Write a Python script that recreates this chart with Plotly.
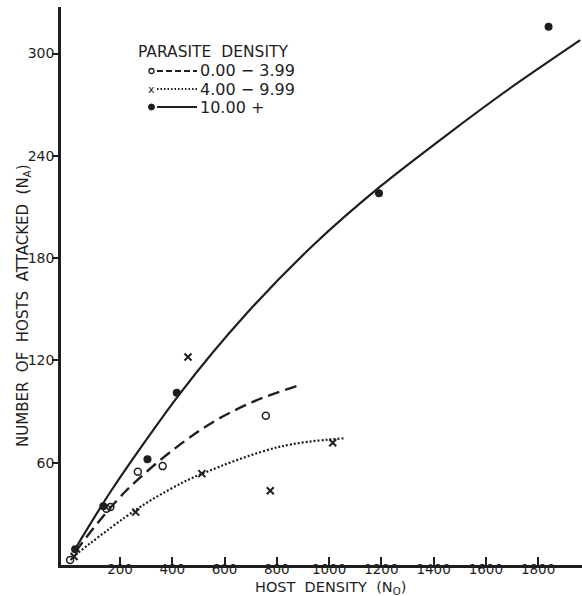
import plotly.graph_objects as go

# ---- data ----
x_ticks = [200, 400, 600, 800, 1000, 1200, 1400, 1600, 1800]
y_ticks = [60, 120, 180, 240, 300]

# observed points
low_x = [9, 148, 163, 268, 363, 758]          # parasite density 0.00-3.99 (open circles)
low_y = [3, 33, 34, 54.7, 58, 87.6]
mid_x = [24, 260, 460, 513, 775, 1014]        # 4.00-9.99 (x)
mid_y = [5, 31, 122, 53.6, 43.6, 71.7]
high_x = [28, 136, 305, 417, 1191, 1840]      # 10.00+ (filled circles)
high_y = [9.2, 34.5, 62, 101, 218, 315.7]

# fitted curves
low_fit_x = [28, 226, 506, 698, 889]
low_fit_y = [7.6, 44, 79, 95, 105.6]
mid_fit_x = [28, 257, 392, 513, 812, 1055]
mid_fit_y = [5.9, 32, 44.5, 53.5, 69.4, 74.3]
high_fit_x = [28, 168, 430, 685, 940, 1195, 1450, 1705, 1961]
high_fit_y = [9.4, 44, 100.7, 147.6, 187.7, 221.9, 252.2, 281.0, 307.9]

legend_labels = ["0.00 \u2212 3.99", "4.00 \u2212 9.99", "10.00 +"]
legend_title = "PARASITE  DENSITY"

INK = "#1e1e1e"
FONT = "DejaVu Sans"

fig = go.Figure()

fig.add_trace(go.Scatter(x=high_fit_x, y=high_fit_y, mode="lines",
                         line=dict(color=INK, width=2.2, shape="spline", smoothing=0.8),
                         showlegend=False, hoverinfo="skip"))
fig.add_trace(go.Scatter(x=low_fit_x, y=low_fit_y, mode="lines",
                         line=dict(color=INK, width=2.4, shape="spline", dash="12px,6px"),
                         showlegend=False, hoverinfo="skip"))
fig.add_trace(go.Scatter(x=mid_fit_x, y=mid_fit_y, mode="lines",
                         line=dict(color=INK, width=2.2, shape="spline", dash="2px,2px"),
                         showlegend=False, hoverinfo="skip"))

fig.add_trace(go.Scatter(x=low_x, y=low_y, mode="markers",
                         marker=dict(symbol="circle-open", size=7, color=INK, line=dict(width=1.5)),
                         showlegend=False))
fig.add_trace(go.Scatter(x=mid_x, y=mid_y, mode="markers",
                         marker=dict(symbol="x-thin-open", size=7, color=INK, line=dict(width=2, color=INK)),
                         showlegend=False))
fig.add_trace(go.Scatter(x=high_x, y=high_y, mode="markers",
                         marker=dict(symbol="circle", size=8, color=INK),
                         showlegend=False))

W, H = 582, 596
L, R, T, B = 61, 0, 7, 31
pw, ph = W - L - R, H - T - B


def px(xp):
    return (xp - L) / pw


def py(yp):
    return (H - B - yp) / ph


shapes = []
annotations = []

# custom legend
annotations.append(dict(xref="paper", yref="paper", x=px(136), y=py(52), xanchor="left", yanchor="middle",
                        text=legend_title, showarrow=False, font=dict(family=FONT, size=15.5, color=INK)))
rows_y = [71, 89, 107]
dashes = ["6px,3px", "1.5px,2px", "solid"]
for i, (ry, lab, d) in enumerate(zip(rows_y, legend_labels, dashes)):
    shapes.append(dict(type="line", xref="paper", yref="paper", x0=px(157), x1=px(197), y0=py(ry), y1=py(ry),
                       line=dict(color=INK, width=2, dash=d)))
    annotations.append(dict(xref="paper", yref="paper", x=px(198), y=py(ry), xanchor="left", yanchor="middle",
                            text=lab, showarrow=False, font=dict(family=FONT, size=16, color=INK)))
# legend symbols
shapes.append(dict(type="circle", xref="paper", yref="paper", x0=px(149), x1=px(154), y0=py(68.5), y1=py(73.5),
                   line=dict(color=INK, width=1.3)))
annotations.append(dict(xref="paper", yref="paper", x=px(151), y=py(89), xanchor="center", yanchor="middle",
                        text="x", showarrow=False, font=dict(family=FONT, size=11, color=INK)))
shapes.append(dict(type="circle", xref="paper", yref="paper", x0=px(148.5), x1=px(154.5), y0=py(104), y1=py(110),
                   fillcolor=INK, line=dict(color=INK, width=1)))

# axis titles
annotations.append(dict(xref="paper", yref="paper", x=px(330), y=py(587.5), xanchor="center", yanchor="middle",
                        text="HOST  DENSITY  (N<sub>O</sub>)", showarrow=False,
                        font=dict(family=FONT, size=14.5, color=INK)))
annotations.append(dict(xref="paper", yref="paper", x=px(23), y=py(306), xanchor="center", yanchor="middle",
                        text="NUMBER  OF  HOSTS  ATTACKED  (N<sub>A</sub>)", showarrow=False, textangle=-90,
                        font=dict(family=FONT, size=15, color=INK)))

fig.update_layout(
    width=W, height=H,
    margin=dict(l=L, r=R, t=T, b=B, pad=0),
    paper_bgcolor="white", plot_bgcolor="white",
    shapes=shapes, annotations=annotations,
    showlegend=False,
    font=dict(family=FONT, color=INK),
)
fig.update_xaxes(range=[-26, 1968], tickvals=x_ticks, ticktext=[str(v) for v in x_ticks],
                 ticks="inside", ticklen=8, tickwidth=2, tickcolor=INK, ticklabelstandoff=-10,
                 showline=True, linecolor=INK, linewidth=2.5, showgrid=False, zeroline=False,
                 tickfont=dict(family=FONT, size=13.5, color=INK))
fig.update_yaxes(range=[0, 327.3], tickvals=y_ticks, ticktext=[str(v) for v in y_ticks],
                 ticks="outside", ticklen=6, tickwidth=2, tickcolor=INK, ticklabelstandoff=-5,
                 showline=True, linecolor=INK, linewidth=2.5, showgrid=False, zeroline=False,
                 tickfont=dict(family=FONT, size=14, color=INK))

fig.write_html("out.html", config={"displayModeBar": False},
               post_script="document.body.style.margin='0px';document.body.style.overflow='hidden';")
